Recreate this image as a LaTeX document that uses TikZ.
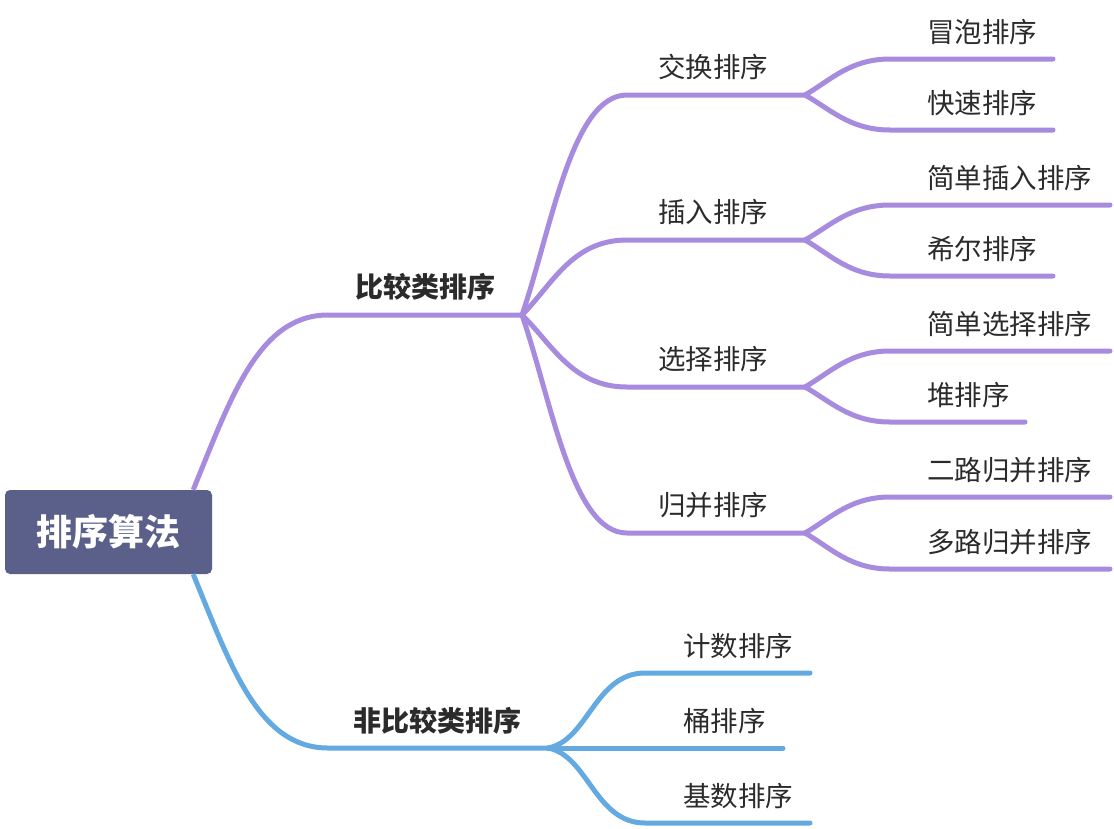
\documentclass[tikz,border=0pt]{standalone}
\usepackage{fontspec}
\setmainfont{Noto Sans CJK SC}

\definecolor{rootc}{HTML}{5A6089}
\definecolor{purp}{HTML}{A78BDE}
\definecolor{blu}{HTML}{64AAE1}
\definecolor{txtc}{HTML}{2B2B2B}

\tikzset{
  root/.style={fill=rootc, rounded corners=5pt, minimum width=207pt, minimum height=84pt,
    text=white, font=\fontsize{36}{40}\selectfont\bfseries},
  topic/.style={inner sep=0pt, text=txtc, font=\fontsize{28}{32}\selectfont\bfseries},
  sub/.style={inner sep=0pt, text=txtc, font=\fontsize{27.5}{31}\selectfont},
  leaf/.style={sub, anchor=west},
  lnp/.style={draw=purp, line width=5pt, line cap=round},
  lnb/.style={draw=blu, line width=5pt, line cap=round},
}

\begin{document}
\begin{tikzpicture}[x=1pt, y=-1pt]
\useasboundingbox (0,0) rectangle (1114,828);

\node[root] (root) at (108.5,532) {排序算法};

% Rama superior: comparativos
\coordinate (cmp-s) at (328,315);
\coordinate (cmp-e) at (522,315);
\node[topic] (cmp) at (425,287) {比较类排序};
\draw[lnp, line cap=butt] ([xshift=-19pt]root.north east) .. controls +(37,-90) and +(-70,0) .. (cmp-s) -- (cmp-e);

	\foreach \n/\y/\t in {xchg/95/交换排序, ins/240/插入排序, sel/387/选择排序, mrg/533/归并排序} {
		\coordinate (\n-s) at (627,\y);
		\coordinate (\n-e) at (805,\y);
		\node[sub] (\n) at (713,\y-28) {\t};
		\draw[lnp] (cmp-e) .. controls +(30,{0.4*(\y-315)}) and +(-55,0) .. (\n-s) -- (\n-e);
	}

	\foreach \p/\py/\n/\y/\xe/\t in {xchg/95/bub/59/1053/冒泡排序, xchg/95/qck/130/1053/快速排序,
		ins/240/sins/205/1110/简单插入排序, ins/240/shl/276/1053/希尔排序,
		sel/387/ssel/351/1110/简单选择排序, sel/387/heap/422/1025/堆排序,
		mrg/533/mtwo/497/1110/二路归并排序, mrg/533/mk/569/1110/多路归并排序} {
		\coordinate (\n-s) at (890,\y);
		\coordinate (\n-e) at (\xe,\y);
		\node[leaf] (\n) at (927,\y-27) {\t};
		\draw[lnp] (\p-e) .. controls +(25,{0.4*(\y-\py)}) and +(-40,0) .. (\n-s) -- (\n-e);
	}

% Rama inferior: no comparativos
\coordinate (ncmp-s) at (328,748);
\coordinate (ncmp-e) at (548,748);
\node[topic] (ncmp) at (437,721) {非比较类排序};
\draw[lnb, line cap=butt] ([xshift=-19pt]root.south east) .. controls +(37,90) and +(-70,0) .. (ncmp-s) -- (ncmp-e);

	\foreach \n/\y/\xe/\t in {cnt/673/810/计数排序, bkt/748/783/桶排序, rdx/823/810/基数排序} {
		\coordinate (\n-s) at (645,\y);
		\coordinate (\n-e) at (\xe,\y);
		\node[leaf] (\n) at (683,\y-27) {\t};
		\draw[lnb] (ncmp-e) .. controls +(40,{0.1*(\y-748)}) and +(-50,0) .. (\n-s) -- (\n-e);
	}
\end{tikzpicture}
\end{document}
